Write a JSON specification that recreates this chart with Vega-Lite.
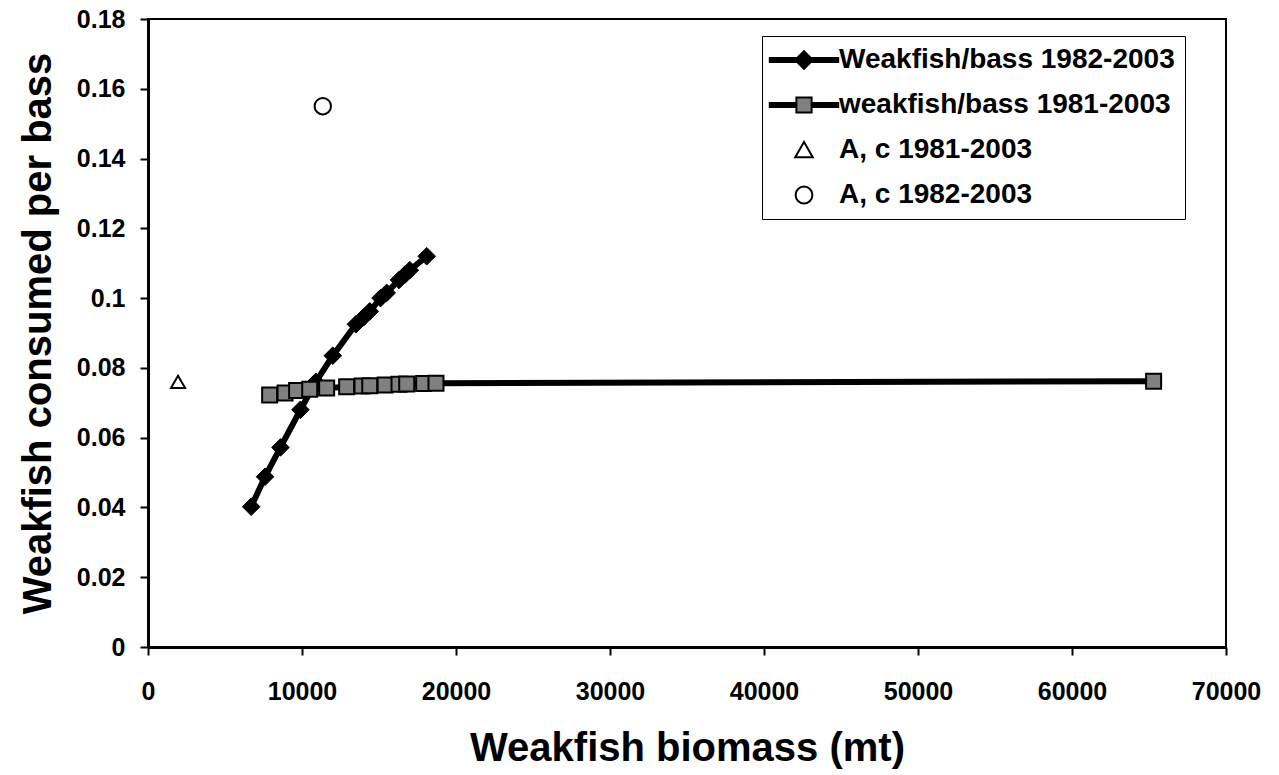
{
  "$schema": "https://vega.github.io/schema/vega-lite/v6.json",
  "width": 1078,
  "height": 628,
  "autosize": "none",
  "padding": {"left": 148, "top": 19, "right": 53, "bottom": 128},
  "background": "white",
  "config": {
    "font": "Liberation Sans",
    "view": {"stroke": "black", "strokeWidth": 2},
    "axis": {
      "grid": false,
      "labelFont": "Liberation Sans",
      "labelFontWeight": "bold",
      "labelColor": "black",
      "titleFont": "Liberation Sans",
      "titleFontWeight": "bold",
      "titleColor": "black",
      "domainColor": "black",
      "domainWidth": 3,
      "tickColor": "black",
      "tickWidth": 2,
      "tickSize": 8
    },
    "legend": {
      "labelFont": "Liberation Sans",
      "labelFontWeight": "bold",
      "labelColor": "black"
    }
  },
  "data": {
    "values": [
      {"series": "Weakfish/bass 1982-2003", "x": 6700, "y": 0.0402},
      {"series": "Weakfish/bass 1982-2003", "x": 7600, "y": 0.0488},
      {"series": "Weakfish/bass 1982-2003", "x": 8600, "y": 0.0572},
      {"series": "Weakfish/bass 1982-2003", "x": 9900, "y": 0.0680},
      {"series": "Weakfish/bass 1982-2003", "x": 10900, "y": 0.0760},
      {"series": "Weakfish/bass 1982-2003", "x": 12000, "y": 0.0835},
      {"series": "Weakfish/bass 1982-2003", "x": 13500, "y": 0.0925},
      {"series": "Weakfish/bass 1982-2003", "x": 14000, "y": 0.0945},
      {"series": "Weakfish/bass 1982-2003", "x": 14400, "y": 0.0962},
      {"series": "Weakfish/bass 1982-2003", "x": 15100, "y": 0.1000},
      {"series": "Weakfish/bass 1982-2003", "x": 15500, "y": 0.1015},
      {"series": "Weakfish/bass 1982-2003", "x": 16300, "y": 0.1052},
      {"series": "Weakfish/bass 1982-2003", "x": 16700, "y": 0.1068},
      {"series": "Weakfish/bass 1982-2003", "x": 17000, "y": 0.1080},
      {"series": "Weakfish/bass 1982-2003", "x": 18100, "y": 0.1120},
      {"series": "weakfish/bass 1981-2003", "x": 7900, "y": 0.0722},
      {"series": "weakfish/bass 1981-2003", "x": 8900, "y": 0.0728},
      {"series": "weakfish/bass 1981-2003", "x": 9650, "y": 0.0735},
      {"series": "weakfish/bass 1981-2003", "x": 10500, "y": 0.0739},
      {"series": "weakfish/bass 1981-2003", "x": 11600, "y": 0.0742},
      {"series": "weakfish/bass 1981-2003", "x": 12900, "y": 0.0746},
      {"series": "weakfish/bass 1981-2003", "x": 13900, "y": 0.0748},
      {"series": "weakfish/bass 1981-2003", "x": 14400, "y": 0.0749},
      {"series": "weakfish/bass 1981-2003", "x": 15400, "y": 0.0751},
      {"series": "weakfish/bass 1981-2003", "x": 16300, "y": 0.0753},
      {"series": "weakfish/bass 1981-2003", "x": 16800, "y": 0.0754},
      {"series": "weakfish/bass 1981-2003", "x": 17900, "y": 0.0755},
      {"series": "weakfish/bass 1981-2003", "x": 18700, "y": 0.0756},
      {"series": "weakfish/bass 1981-2003", "x": 65300, "y": 0.0762},
      {"series": "A, c 1981-2003", "x": 1950, "y": 0.0760},
      {"series": "A, c 1982-2003", "x": 11350, "y": 0.1550}
    ]
  },
  "encoding": {
    "x": {
      "field": "x",
      "type": "quantitative",
      "scale": {"domain": [0, 70000], "nice": false, "zero": false},
      "axis": {
        "title": "Weakfish biomass (mt)",
        "values": [0, 10000, 20000, 30000, 40000, 50000, 60000, 70000],
        "format": "d",
        "labelFlush": false,
        "labelFontSize": 25,
        "labelPadding": 24,
        "titleFontSize": 40,
        "titlePadding": 24
      }
    },
    "y": {
      "field": "y",
      "type": "quantitative",
      "scale": {"domain": [0, 0.18], "nice": false},
      "axis": {
        "title": "Weakfish consumed per bass",
        "values": [0, 0.02, 0.04, 0.06, 0.08, 0.1, 0.12, 0.14, 0.16, 0.18],
        "format": "~g",
        "labelFlush": false,
        "labelFontSize": 25,
        "labelPadding": 15,
        "titleFontSize": 40,
        "titlePadding": 18
      }
    }
  },
  "layer": [
    {
      "transform": [{"filter": "datum.series == 'weakfish/bass 1981-2003'"}],
      "mark": {"type": "line", "color": "black", "strokeWidth": 6}
    },
    {
      "transform": [{"filter": "datum.series == 'Weakfish/bass 1982-2003'"}],
      "mark": {"type": "line", "color": "black", "strokeWidth": 6}
    },
    {
      "transform": [{"filter": "datum.series == 'Weakfish/bass 1982-2003'"}],
      "mark": {"type": "point", "shape": "diamond", "size": 310, "filled": true, "fill": "black", "stroke": "black", "strokeWidth": 1, "opacity": 1}
    },
    {
      "transform": [{"filter": "datum.series == 'weakfish/bass 1981-2003'"}],
      "mark": {"type": "point", "shape": "square", "size": 225, "filled": true, "fill": "#808080", "stroke": "black", "strokeWidth": 2, "opacity": 1}
    },
    {
      "transform": [{"filter": "datum.series == 'A, c 1981-2003'"}],
      "mark": {"type": "point", "shape": "triangle-up", "size": 200, "filled": false, "fill": "white", "stroke": "black", "strokeWidth": 2, "opacity": 1}
    },
    {
      "transform": [{"filter": "datum.series == 'A, c 1982-2003'"}],
      "mark": {"type": "point", "shape": "circle", "size": 270, "filled": false, "fill": "white", "stroke": "black", "strokeWidth": 2, "opacity": 1}
    },
    {
      "mark": {"type": "point", "opacity": 0, "size": 256},
      "encoding": {
        "shape": {
          "field": "series",
          "type": "nominal",
          "scale": {
            "domain": ["Weakfish/bass 1982-2003", "weakfish/bass 1981-2003", "A, c 1981-2003", "A, c 1982-2003"],
            "range": [
              "M-4.4,0H4.4M-4.4,-0.13H4.4M-4.4,0.13H4.4M-4.4,-0.25H4.4M-4.4,0.25H4.4M0,-1.1L1.1,0L0,1.1L-1.1,0Z",
              "M-4.4,0H-1M-4.4,-0.13H-1M-4.4,0.13H-1M-4.4,-0.25H-1M-4.4,0.25H-1M1,0H4.4M1,-0.13H4.4M1,0.13H4.4M1,-0.25H4.4M1,0.25H4.4M-0.95,-0.95H0.95V0.95H-0.95Z",
              "M0,-1L1.1,0.9L-1.1,0.9Z",
              "M-1.05,0A1.05,1.05,0,1,0,1.05,0A1.05,1.05,0,1,0,-1.05,0Z"
            ]
          },
          "legend": {
            "title": null,
            "orient": "none",
            "legendX": 614,
            "legendY": 17,
            "padding": 10,
            "strokeColor": "black",
            "symbolSize": 256,
            "symbolStrokeWidth": 2,
            "symbolOpacity": 1,
            "symbolOffset": 18,
            "labelOffset": 21,
            "labelFontSize": 28,
            "labelLimit": 600,
            "rowPadding": 17
          }
        },
        "fill": {
          "field": "series",
          "type": "nominal",
          "scale": {
            "domain": ["Weakfish/bass 1982-2003", "weakfish/bass 1981-2003", "A, c 1981-2003", "A, c 1982-2003"],
            "range": ["black", "#808080", "white", "white"]
          },
          "legend": {
            "title": null,
            "orient": "none",
            "legendX": 614,
            "legendY": 17,
            "padding": 10,
            "strokeColor": "black",
            "symbolSize": 256,
            "symbolStrokeWidth": 2,
            "symbolOpacity": 1,
            "symbolOffset": 18,
            "labelOffset": 21,
            "labelFontSize": 28,
            "labelLimit": 600,
            "rowPadding": 17
          }
        },
        "stroke": {
          "field": "series",
          "type": "nominal",
          "scale": {
            "domain": ["Weakfish/bass 1982-2003", "weakfish/bass 1981-2003", "A, c 1981-2003", "A, c 1982-2003"],
            "range": ["black", "black", "black", "black"]
          },
          "legend": {
            "title": null,
            "orient": "none",
            "legendX": 614,
            "legendY": 17,
            "padding": 10,
            "strokeColor": "black",
            "symbolSize": 256,
            "symbolStrokeWidth": 2,
            "symbolOpacity": 1,
            "symbolOffset": 18,
            "labelOffset": 21,
            "labelFontSize": 28,
            "labelLimit": 600,
            "rowPadding": 17
          }
        }
      }
    }
  ]
}
